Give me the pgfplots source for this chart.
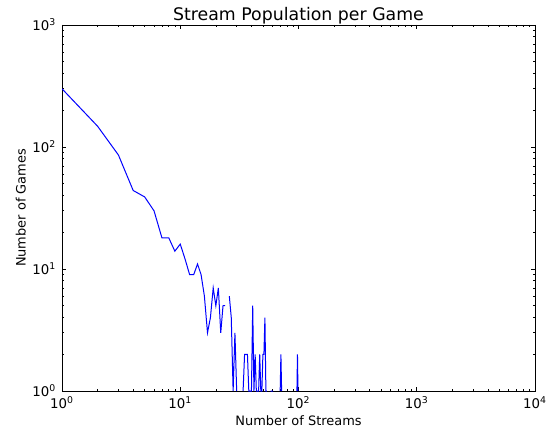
\documentclass[border=0pt]{standalone}
\usepackage{pgfplots}
\pgfplotsset{compat=1.18}
\usepackage{fontspec}
\setmainfont{DejaVu Sans}
\usetikzlibrary{calc}

% games per stream count (0 = none, line breaks there)
\pgfplotstableread{
n   games
1   300
2   148
3   86
4   44
5   39
6   30
7   18
8   18
9   14
10  16
11  12
12  9
13  9
14  11
15  9
16  6
17  3
18  4
19  7
20  5
21  7
22  3
23  5
24  5
25  0
26  6
27  4
28  1
29  3
30  1
31  0
32  0
33  0
34  1
35  2
36  2
37  2
38  1
39  1
40  1
41  5
42  1
43  2
44  1
45  1
46  1
47  2
48  1
49  1
50  2
51  2
52  4
53  1
54  1
55  0
56  0
57  0
58  1
59  1
60  1
61  1
62  0
69  0
70  1
71  2
72  1
73  0
96  0
97  1
98  2
99  1
100 0
139 0
140 1
141 1
142 0
}\streams

\begin{document}
\begin{tikzpicture}
\begin{axis}[
    scale only axis,
    width=354.75pt, height=274.5pt,
    xmode=log, ymode=log,
    xmin=1, xmax=10000, ymin=1, ymax=1000,
    xtick={1,10,100,1000,10000},
    xticklabels={10\textsuperscript{0},10\textsuperscript{1},10\textsuperscript{2},10\textsuperscript{3},10\textsuperscript{4}},
    ytick={1,10,100,1000},
    yticklabels={10\textsuperscript{0},10\textsuperscript{1},10\textsuperscript{2},10\textsuperscript{3}},
    tick align=inside,
    major tick length=3.3pt, minor tick length=1.7pt,
    tick style={black, line width=0.5pt},
    ticklabel style={font=\fontsize{10}{12}\selectfont},
    xticklabel style={yshift=-1pt},
    yticklabel style={xshift=-1pt},
    axis line style={line width=0.7pt},
    title={Stream Population per Game},
    title style={font=\fontsize{13}{15}\selectfont, yshift=-8.5pt},
    xlabel={Number of Streams},
    ylabel={Number of Games},
    label style={font=\fontsize{9.7}{12}\selectfont},
    xlabel style={yshift=2pt},
    ylabel style={yshift=-2pt},
    unbounded coords=jump,
]
\addplot[blue, line width=0.75pt, mark=none] table[x=n, y=games] {\streams};
\end{axis}
\pgfresetboundingbox
\path ($(current axis.south west)+(-46.5pt,-30.75pt)$) rectangle ($(current axis.north east)+(15pt,18.75pt)$);
\end{tikzpicture}
\end{document}
